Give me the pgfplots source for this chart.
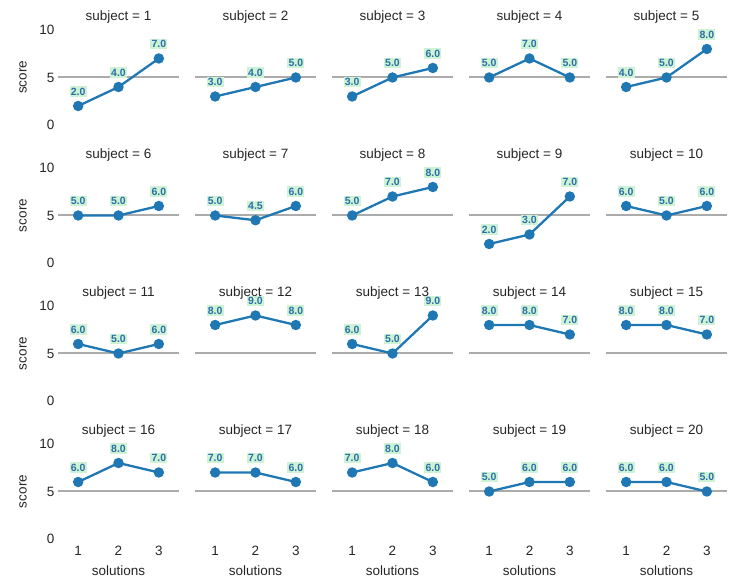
\documentclass[border=0pt]{standalone}
\usepackage{pgfplots}
\pgfplotsset{compat=1.18}
\usepackage{fontspec}
\setmainfont{Liberation Sans}

\definecolor{lineblue}{HTML}{1F77B4}
\definecolor{labblue}{HTML}{2A6FA5}
\definecolor{labfill}{HTML}{CDF2D6}
\definecolor{refgray}{HTML}{ABABAB}
\definecolor{txt}{HTML}{262626}

\pgfplotsset{
  every axis title shift=0pt,
  facet/.style={
    scale only axis, width=121pt, height=95pt,
    xmin=0.5, xmax=3.5, ymin=0, ymax=10,
    clip=false,
    axis line style={draw=none},
    major tick length=0pt,
    xtick={1,2,3}, ytick={0,5,10},
    xticklabels={}, yticklabels={},
    /pgf/number format/assume math mode=true,
    tick label style={font=\fontsize{13.5}{16}\selectfont, text=txt},
    xticklabel style={yshift=-4pt},
    label style={font=\fontsize{13.5}{16}\selectfont, text=txt},
    title style={at={(axis description cs:0.5,1.14)}, anchor=center,
      font=\fontsize{13.5}{16}\selectfont, text=txt},
    ylabel style={at={(axis description cs:-0.289,0.5)}, anchor=center},
    xlabel style={at={(axis description cs:0.5,-0.33)}, anchor=center},
  },
  leftcol/.style={yticklabels={0,5,10}, ylabel={score}},
  botrow/.style={xticklabels={1,2,3}, xlabel={solutions}},
}

% \panel[opts]{col}{row}{subject}{y1}{y2}{y3}
\newcommand{\panel}[7][]{%
  \begin{axis}[facet, #1,
      at={({58pt+137pt*#2},{461pt-138pt*#3})}, anchor=south west,
      title={subject = #4}]
    \addplot[refgray, line width=2pt] coordinates {(0.5,5) (3.5,5)};
    \addplot[lineblue, line width=2.3pt, mark=*, mark size=4pt,
      nodes near coords,
      nodes near coords style={
        /pgf/number format/.cd, fixed, fixed zerofill, precision=1, /tikz/.cd,
        anchor=center, yshift=14.5pt, fill=labfill, inner sep=1.3pt,
        text=labblue, font=\bfseries\fontsize{10.5}{11}\selectfont}]
      coordinates {(1,#5) (2,#6) (3,#7)};
  \end{axis}%
}

\begin{document}
\begin{tikzpicture}[x=1pt,y=1pt]
\useasboundingbox (0,0) rectangle (736,586);
\panel[leftcol]{0}{0}{1}{2}{4}{7}
\panel{1}{0}{2}{3}{4}{5}
\panel{2}{0}{3}{3}{5}{6}
\panel{3}{0}{4}{5}{7}{5}
\panel{4}{0}{5}{4}{5}{8}
\panel[leftcol]{0}{1}{6}{5}{5}{6}
\panel{1}{1}{7}{5}{4.5}{6}
\panel{2}{1}{8}{5}{7}{8}
\panel{3}{1}{9}{2}{3}{7}
\panel{4}{1}{10}{6}{5}{6}
\panel[leftcol]{0}{2}{11}{6}{5}{6}
\panel{1}{2}{12}{8}{9}{8}
\panel{2}{2}{13}{6}{5}{9}
\panel{3}{2}{14}{8}{8}{7}
\panel{4}{2}{15}{8}{8}{7}
\panel[leftcol,botrow]{0}{3}{16}{6}{8}{7}
\panel[botrow]{1}{3}{17}{7}{7}{6}
\panel[botrow]{2}{3}{18}{7}{8}{6}
\panel[botrow]{3}{3}{19}{5}{6}{6}
\panel[botrow]{4}{3}{20}{6}{6}{5}
\end{tikzpicture}
\end{document}
